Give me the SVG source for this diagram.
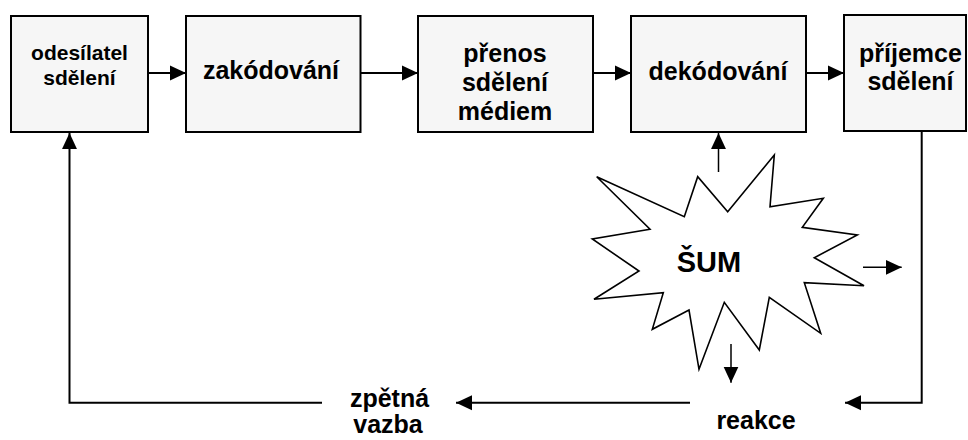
<svg xmlns="http://www.w3.org/2000/svg" width="968" height="440" viewBox="0 0 968 440">
<style>
.box{fill:#f6f6f6;stroke:#000;stroke-width:2}
.t{font-family:"Liberation Sans",Arial,sans-serif;font-weight:bold;font-size:25px;fill:#000;text-anchor:middle}
.s{font-size:21px}
.big{font-size:29px}
.c{fill:none;stroke:#000;stroke-width:2}
.n{fill:none;stroke:#000;stroke-width:1.5}
.star{fill:#fff;stroke:#000;stroke-width:1.6;stroke-linejoin:miter}
</style>
<defs>
<marker id="ah" markerUnits="userSpaceOnUse" markerWidth="16" markerHeight="16" viewBox="0 0 15 14" refX="15" refY="7" orient="auto">
<path d="M0,0 L15,7 L0,14 Z" fill="#000"/>
</marker>
</defs>
<rect width="968" height="440" fill="#fff"/>
<g id="odesilatel">
<rect class="box" x="11" y="16" width="137" height="116"/>
<text class="t s" x="79.5" y="60">odesílatel</text>
<text class="t s" x="79.5" y="85">sdělení</text>
</g>
<g id="zakodovani">
<rect class="box" x="186" y="16" width="174.5" height="116"/>
<text class="t" x="271" y="79">zakódování</text>
</g>
<g id="prenos">
<rect class="box" x="418" y="16" width="175" height="116"/>
<text class="t" x="505" y="62">přenos</text>
<text class="t" x="505" y="91">sdělení</text>
<text class="t" x="505" y="119.5">médiem</text>
</g>
<g id="dekodovani">
<rect class="box" x="631" y="16" width="175" height="116"/>
<text class="t" x="718" y="80">dekódování</text>
</g>
<g id="prijemce">
<rect class="box" x="844" y="15" width="122" height="116"/>
<text class="t" x="910.5" y="62">příjemce</text>
<text class="t" x="910.5" y="90">sdělení</text>
</g>
<g id="sum">
<polygon class="star" points="596.7,176.7 684.3,216.7 697.7,176.7 727.7,211.7 774.3,155 770,206.7 823.3,198.3 802.3,227.3 857.3,235 814.3,257.7 864,285.7 804.3,282.7 820.7,333.3 769.3,297.3 759.3,350 724.3,302.3 699,369.3 689,310 652.3,329.3 663.3,292.7 594,299.3 639,271 592.3,239 650,229.3"/>
<text class="t big" x="709" y="272">ŠUM</text>
</g>
<g id="reakce">
<text class="t" x="756" y="429">reakce</text>
</g>
<g id="zpetna-vazba">
<text class="t" x="389.5" y="407">zpětná</text>
<text class="t" x="388" y="433">vazba</text>
</g>
<g id="connectors">
<line class="c" x1="148" y1="73" x2="186" y2="73" marker-end="url(#ah)"/>
<line class="c" x1="360.5" y1="73" x2="418" y2="73" marker-end="url(#ah)"/>
<line class="c" x1="593" y1="73" x2="631" y2="73" marker-end="url(#ah)"/>
<line class="c" x1="806" y1="73" x2="844" y2="73" marker-end="url(#ah)"/>
<path class="c" d="M921.7,131 V402.7 H845" marker-end="url(#ah)"/>
<line class="c" x1="690" y1="402.7" x2="456" y2="402.7" marker-end="url(#ah)"/>
<path class="c" d="M322,402.7 H69.5 V133" marker-end="url(#ah)"/>
<line class="n" x1="718.5" y1="172" x2="718.5" y2="133" marker-end="url(#ah)"/>
<line class="n" x1="863" y1="267.3" x2="901.7" y2="267.3" marker-end="url(#ah)"/>
<line class="n" x1="731" y1="344" x2="731" y2="382.7" marker-end="url(#ah)"/>
</g>
</svg>
